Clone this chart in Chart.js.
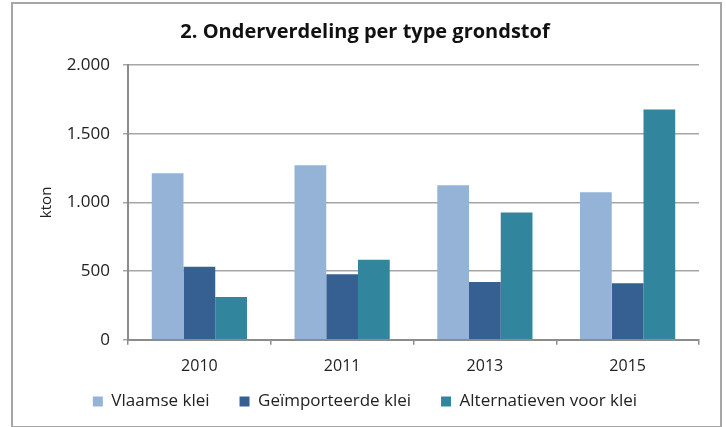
<!DOCTYPE html>
<html>
<head>
<meta charset="utf-8">
<script src="https://cdn.jsdelivr.net/npm/chart.js@4/dist/chart.umd.min.js"></script>
<style>
    body { margin: 0; background: #ffffff; }
    #frame { position: absolute; left: 11px; top: 2px; width: 707px; height: 422px; border: 2px solid #a6a6a6; }
    #wrap { position: absolute; left: 0; top: 0; width: 726px; height: 427px; }
</style>
</head>
<body>
<div id="frame"></div>
<div id="wrap"><canvas id="myChart" width="726" height="427"></canvas></div>
<script>
// Données (kton)
const years = ['2010', '2011', '2013', '2015'];
const vlaamseKlei = [1212, 1270, 1124, 1073];
const geimporteerdeKlei = [531, 477, 421, 412];
const alternatieven = [312, 582, 927, 1677];

const seriesNames = ['Vlaamse klei', 'Geïmporteerde klei', 'Alternatieven voor klei'];
const seriesColors = ['#95b3d7', '#366092', '#31859c'];

const yMin = 0;
const yMax = 2000;
const yStep = 500;

const fontFamily = '"Open Sans", "Noto Sans", sans-serif';
const textColor = '#222222';
const gridColor = '#a6a6a6';
const axisColor = '#8c8c8c';

// Format 2000 -> 2.000
function formatThousands(v) {
    return String(v).replace(/\B(?=(\d{3})+(?!\d))/g, '.');
}

// Remonte la légende (le padding horizontal des items reste large)
const legendShift = {
    id: 'legendShift',
    afterLayout(chart) {
        const lg = chart.legend;
        lg.top -= 25;
        lg.bottom -= 25;
    }
};

const config = {
    type: 'bar',
    data: {
        labels: years,
        datasets: [vlaamseKlei, geimporteerdeKlei, alternatieven].map((values, i) => ({
            label: seriesNames[i],
            data: values,
            backgroundColor: seriesColors[i],
            borderWidth: 0,
            categoryPercentage: 0.667,
            barPercentage: 1.0
        }))
    },
    options: {
        responsive: false,
        animation: false,
        layout: {
            padding: { left: 11, right: 7, top: 2, bottom: -18 }
        },
        scales: {
            y: {
                min: yMin,
                max: yMax,
                afterFit: (scale) => { scale.width = 117; },
                ticks: {
                    stepSize: yStep,
                    padding: 13,
                    color: textColor,
                    font: { family: fontFamily, size: 17 },
                    callback: (v) => formatThousands(v)
                },
                grid: {
                    color: gridColor,
                    lineWidth: 1.5,
                    tickLength: 5
                },
                border: { color: axisColor, width: 2 },
                title: {
                    display: true,
                    text: 'kton',
                    color: textColor,
                    font: { family: fontFamily, size: 15 },
                    padding: { top: 27, bottom: 0 }
                }
            },
            // axe vide à droite, juste pour réserver la marge
            yRight: {
                position: 'right',
                display: true,
                afterFit: (scale) => { scale.width = 20; },
                ticks: { display: false },
                grid: { display: false },
                border: { display: false }
            },
            x: {
                ticks: {
                    padding: 12,
                    color: textColor,
                    font: { family: fontFamily, size: 16 }
                },
                grid: {
                    display: true,
                    drawOnChartArea: false,
                    color: axisColor,
                    lineWidth: 1.5,
                    tickLength: 5
                },
                border: { color: axisColor, width: 2 }
            }
        },
        plugins: {
            title: {
                display: true,
                text: '2. Onderverdeling per type grondstof',
                color: '#111111',
                font: { family: fontFamily, size: 20, weight: '700' },
                padding: { top: 18, bottom: 21 }
            },
            legend: {
                display: true,
                position: 'bottom',
                labels: {
                    boxWidth: 10,
                    boxHeight: 10,
                    padding: 30,
                    color: textColor,
                    font: { family: fontFamily, size: 17 }
                }
            },
            tooltip: { enabled: false }
        }
    },
    plugins: [legendShift]
};

const ctx = document.getElementById('myChart').getContext('2d');
new Chart(ctx, config);
</script>
</body>
</html>
